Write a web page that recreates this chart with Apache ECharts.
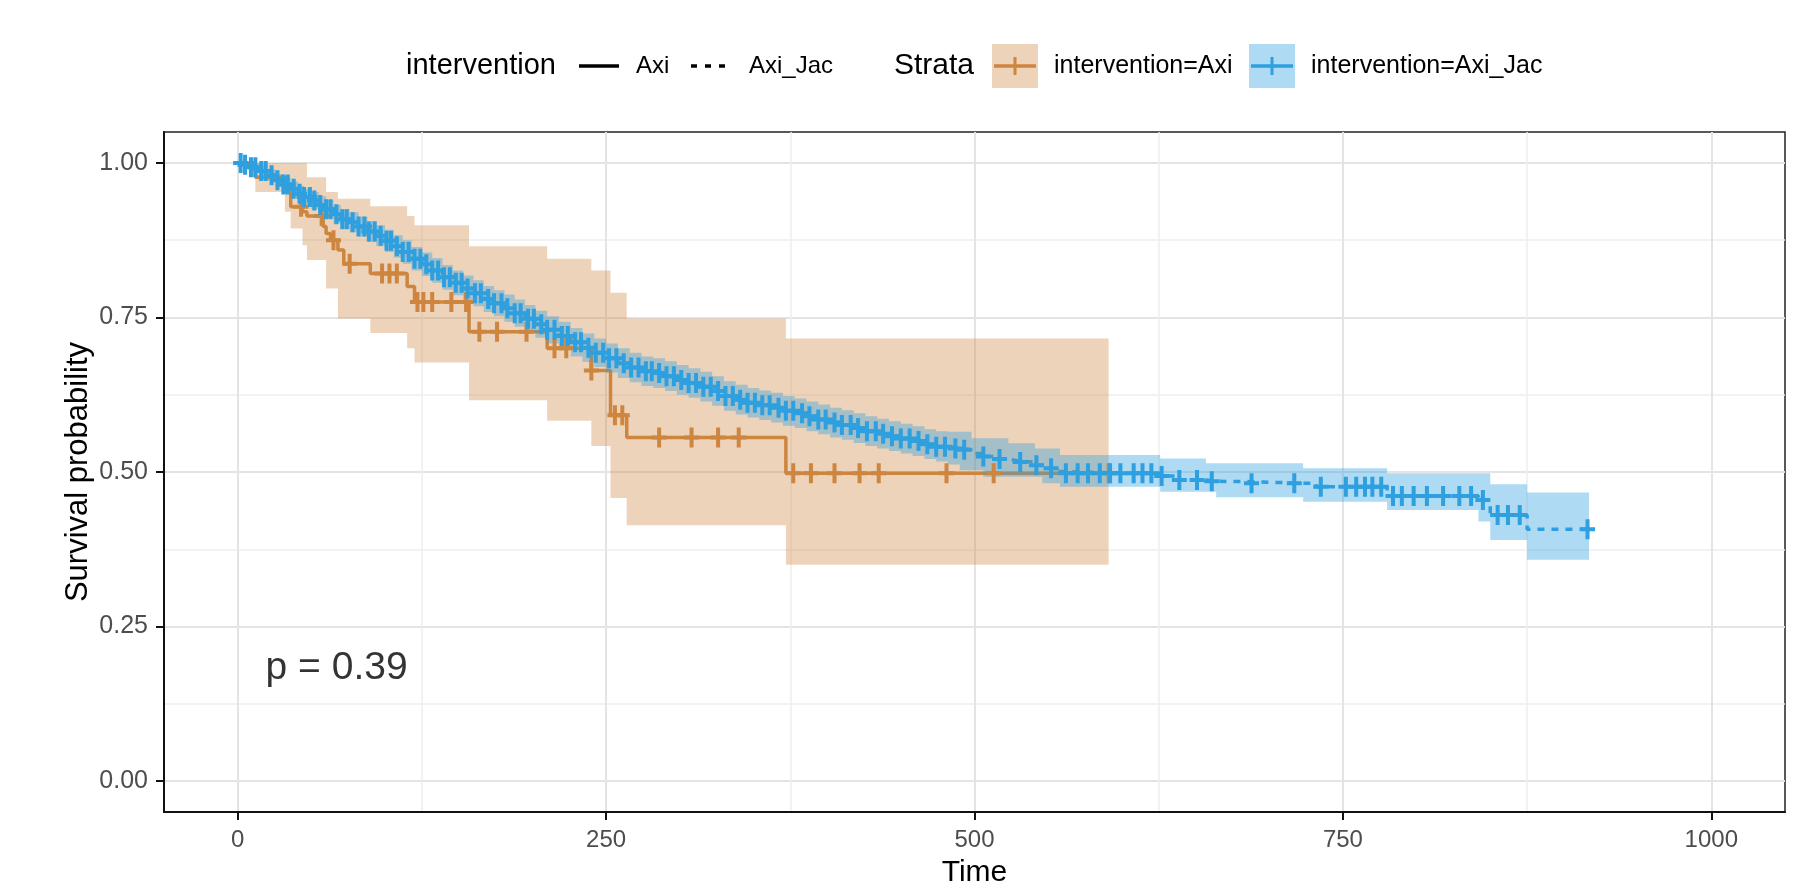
<!DOCTYPE html>
<html><head><meta charset="utf-8">
<script src="https://cdn.jsdelivr.net/npm/echarts@6/dist/echarts.min.js"></script>
<style>html,body{margin:0;padding:0;background:#fff;} #chart{width:1805px;height:882px;}</style>
</head><body><div id="chart"></div>
<script>
// ---------- DATA ----------
const xTicks = [0, 250, 500, 750, 1000];
const xMinor = [125, 375, 625, 875];
const yTicks = [0, 0.25, 0.5, 0.75, 1];
const yMinor = [0.125, 0.375, 0.625, 0.875];

// Strata intervention=Axi
const axiTime  = [0,12,32,36,44,47,58,60,63,68,72,90,115,120,157,210,240,253,264,372,591];
const axiSurv  = [1.000,0.977,0.953,0.929,0.921,0.914,0.897,0.886,0.875,0.859,0.837,0.821,0.800,0.775,0.727,0.700,0.664,0.592,0.556,0.498,0.498];
const axiUpper = [1.000,1.000,1.000,1.000,1.000,0.977,0.977,0.953,0.953,0.942,0.942,0.930,0.914,0.899,0.865,0.845,0.826,0.790,0.7485,0.716,0.716];
const axiLower = [1.000,0.953,0.921,0.894,0.867,0.843,0.843,0.797,0.797,0.7485,0.7485,0.725,0.700,0.677,0.616,0.583,0.542,0.458,0.414,0.350,0.350];
const axiCensor = [43,57,65,76,98,103,108,122,126,132,145,155,164,176,196,215,223,240,256,261,286,308,326,340,377,389,405,422,435,481,513,591];

// Strata intervention=Axi_Jac
const jacTime = [0,4,9,15,20,26,31,36,41,45,50,55,60,65,70,76,82,88,94,100,106,112,118,125,132,139,146,153,160,167,174,181,188,195,202,210,218,226,234,242,250,258,266,274,282,290,298,306,314,322,330,338,346,354,362,370,378,386,394,402,410,418,426,434,442,450,458,466,474,482,
  490,498,506,514,523,530,541,546,554,558,604,626,637,657,664,687,723,732,780,842,850,875,917];
const jacSurv = [1.000,0.997,0.993,0.987,0.980,0.972,0.965,0.958,0.950,0.945,0.939,0.932,0.925,0.917,0.909,0.904,0.897,0.889,0.882,0.874,0.865,0.856,0.845,0.836,0.826,0.815,0.806,0.797,0.789,0.780,0.773,0.765,0.757,0.748,0.739,0.730,0.720,0.710,0.701,0.693,0.684,0.676,0.669,0.663,0.660,0.655,0.649,0.644,0.638,0.631,0.623,0.617,0.612,0.608,0.604,0.599,0.595,0.590,0.585,0.580,0.576,0.571,0.566,0.562,0.558,0.554,0.550,0.545,0.541,0.538,
  0.536,0.530,0.525,0.521,0.518,0.516,0.511,0.506,0.501,0.498,0.498,0.4936,0.487,0.485,0.4844,0.4818,0.4818,0.4763,0.4613,0.4548,0.4306,0.4075,0.4075];
const jacUpper = [1.000,1.000,0.999,0.995,0.989,0.982,0.976,0.970,0.963,0.958,0.953,0.946,0.940,0.932,0.925,0.920,0.913,0.906,0.899,0.892,0.883,0.875,0.864,0.855,0.846,0.835,0.826,0.818,0.810,0.801,0.794,0.787,0.779,0.770,0.761,0.752,0.743,0.733,0.724,0.716,0.708,0.700,0.693,0.687,0.684,0.679,0.673,0.668,0.662,0.655,0.647,0.641,0.636,0.632,0.628,0.623,0.619,0.614,0.609,0.604,0.600,0.595,0.590,0.586,0.582,0.578,0.574,0.569,0.566,0.565,
  0.565,0.5545,0.5545,0.5545,0.5465,0.5465,0.538,0.538,0.538,0.5276,0.5276,0.522,0.522,0.514,0.514,0.514,0.506,0.506,0.498,0.498,0.480,0.4667,0.4667];
const jacLower = [1.000,0.993,0.987,0.979,0.971,0.962,0.954,0.946,0.937,0.932,0.925,0.918,0.910,0.902,0.893,0.888,0.881,0.872,0.865,0.856,0.847,0.837,0.826,0.817,0.806,0.795,0.786,0.776,0.768,0.759,0.752,0.743,0.735,0.726,0.717,0.708,0.697,0.687,0.678,0.670,0.661,0.652,0.645,0.639,0.636,0.631,0.625,0.620,0.614,0.607,0.599,0.593,0.588,0.584,0.580,0.575,0.571,0.566,0.561,0.556,0.552,0.547,0.542,0.538,0.534,0.530,0.526,0.521,0.517,0.512,
  0.503,0.503,0.4925,0.4925,0.4925,0.4925,0.4925,0.4818,0.4818,0.476,0.476,0.468,0.468,0.468,0.459,0.459,0.452,0.452,0.4387,0.4198,0.390,0.358,0.358];
const jacCensor = [2,5,9,12,16,19,23,27,31,34,38,42,45,49,52,56,60,63,67,71,74,78,82,86,89,93,97,101,104,108,112,116,120,124,128,132,136,140,144,148,152,156,161,165,170,174,179,183,188,192,197,201,206,210,215,220,224,229,233,238,243,248,252,257,262,267,272,277,281,286,291,296,301,306,311,316,321,326,331,336,341,346,351,356,361,367,372,377,383,388,394,399,405,410,416,421,427,433,438,444,450,456,462,468,474,480,487,493,506,517,531,542,552,562,570,577,585,592,599,608,614,620,627,639,651,661,688,717,735,752,759,765,770,776,784,790,798,807,818,829,837,845,855,862,870,916];

const pValueText = 'p = 0.39';
const pValuePos = [18.6, 0.183];

// ---------- STYLE ----------
const FONT = '"Liberation Sans", Arial, sans-serif';
const ORANGE = '#CD853F';
const BLUE = '#2E9FDF';
const ORANGE_FILL = 'rgba(205,133,63,0.36)';
const BLUE_FILL = 'rgba(46,159,223,0.38)';
const PLUS = 'path://M11,0 L19,0 L19,16 L30,16 L30,24 L19,24 L19,40 L11,40 L11,24 L0,24 L0,16 L11,16 Z';

function stepAt(times, vals, t) {
  let v = vals[0];
  for (let i = 0; i < times.length; i++) if (times[i] <= t) v = vals[i];
  return v;
}
const pairs = (ts, vs) => ts.map((t, i) => [t, vs[i]]);

// confidence band drawn as one step polygon through the axes' scales
function bandSeries(name, times, lo, hi, fill) {
  return {
    name: name, type: 'custom', silent: true, clip: true, z: 3,
    data: times.map((t, i) => [t, lo[i], hi[i]]),
    encode: { x: 0, y: [1, 2] },
    renderItem: function (params, api) {
      if (params.dataIndex !== 0) return null;
      const pts = [];
      const n = times.length;
      for (let i = 0; i < n - 1; i++) {
        pts.push(api.coord([times[i], hi[i]]));
        pts.push(api.coord([times[i + 1], hi[i]]));
      }
      for (let i = n - 2; i >= 0; i--) {
        pts.push(api.coord([times[i + 1], lo[i]]));
        pts.push(api.coord([times[i], lo[i]]));
      }
      return { type: 'polygon', shape: { points: pts }, style: { fill: fill } };
    }
  };
}

const series = [
  { name: 'Axi', type: 'line', step: 'end', symbol: 'none', data: pairs(axiTime, axiSurv),
    lineStyle: { color: ORANGE, width: 3.5 }, z: 2 },
  { name: 'Axi_Jac', type: 'line', step: 'end', symbol: 'none', data: pairs(jacTime, jacSurv),
    lineStyle: { color: BLUE, width: 3.5, type: [7, 7] }, z: 2 },
  bandSeries('axiBand', axiTime, axiLower, axiUpper, ORANGE_FILL),
  bandSeries('jacBand', jacTime, jacLower, jacUpper, BLUE_FILL),
  { name: 'Axi censor', type: 'scatter', symbol: PLUS, symbolSize: [15, 20],
    data: axiCensor.map(t => [t, stepAt(axiTime, axiSurv, t)]),
    itemStyle: { color: ORANGE, opacity: 1 }, z: 5 },
  { name: 'Axi_Jac censor', type: 'scatter', symbol: PLUS, symbolSize: [15, 20],
    data: jacCensor.map(t => [t, stepAt(jacTime, jacSurv, t)]),
    itemStyle: { color: BLUE, opacity: 1 }, z: 6 },
  { name: 'pval', type: 'scatter', symbolSize: 1, data: [pValuePos],
    itemStyle: { color: 'transparent' }, silent: true,
    label: { show: true, position: 'right', distance: 0, formatter: pValueText,
      fontSize: 39, color: '#000', fontFamily: FONT }, z: 7 }
];

const LEG_Y = 66;
const graphic = [
  { type: 'text', x: 406, y: LEG_Y, style: { text: 'intervention', font: '29px ' + FONT, fill: '#000', verticalAlign: 'middle' } },
  { type: 'line', shape: { x1: 579, y1: LEG_Y, x2: 619, y2: LEG_Y }, style: { stroke: '#000', lineWidth: 3.5 } },
  { type: 'text', x: 636, y: LEG_Y, style: { text: 'Axi', font: '24px ' + FONT, fill: '#000', verticalAlign: 'middle' } },
  { type: 'line', shape: { x1: 691, y1: LEG_Y, x2: 729, y2: LEG_Y }, style: { stroke: '#000', lineWidth: 3.5, lineDash: [6, 8] } },
  { type: 'text', x: 749, y: LEG_Y, style: { text: 'Axi_Jac', font: '24px ' + FONT, fill: '#000', verticalAlign: 'middle' } },
  { type: 'text', x: 894, y: LEG_Y, style: { text: 'Strata', font: '30px ' + FONT, fill: '#000', verticalAlign: 'middle' } },
  { type: 'rect', shape: { x: 992, y: LEG_Y - 22, width: 46, height: 44 }, style: { fill: ORANGE_FILL } },
  { type: 'line', shape: { x1: 994, y1: LEG_Y, x2: 1036, y2: LEG_Y }, style: { stroke: ORANGE, lineWidth: 3.5 } },
  { type: 'line', shape: { x1: 1015, y1: LEG_Y - 9, x2: 1015, y2: LEG_Y + 9 }, style: { stroke: ORANGE, lineWidth: 3 } },
  { type: 'text', x: 1054, y: LEG_Y, style: { text: 'intervention=Axi', font: '25px ' + FONT, fill: '#000', verticalAlign: 'middle' } },
  { type: 'rect', shape: { x: 1249, y: LEG_Y - 22, width: 46, height: 44 }, style: { fill: BLUE_FILL } },
  { type: 'line', shape: { x1: 1251, y1: LEG_Y, x2: 1293, y2: LEG_Y }, style: { stroke: BLUE, lineWidth: 3.5 } },
  { type: 'line', shape: { x1: 1272, y1: LEG_Y - 9, x2: 1272, y2: LEG_Y + 9 }, style: { stroke: BLUE, lineWidth: 3 } },
  { type: 'text', x: 1311, y: LEG_Y, style: { text: 'intervention=Axi_Jac', font: '25px ' + FONT, fill: '#000', verticalAlign: 'middle' } }
];

const option = {
  animation: false,
  backgroundColor: '#fff',
  textStyle: { fontFamily: FONT },
  grid: { left: 164, right: 20, top: 132, bottom: 70, show: true, borderColor: '#222', borderWidth: 1.5,
    containLabel: false, outerBoundsMode: 'none' },
  xAxis: [
    { type: 'value', min: -50, max: 1050, position: 'bottom',
      axisLine: { show: true, onZero: false, lineStyle: { color: '#111', width: 2 } },
      axisTick: { show: true, customValues: xTicks, length: 8, lineStyle: { color: '#111', width: 2 } },
      axisLabel: { customValues: xTicks, fontSize: 24, color: '#4D4D4D', margin: 16, fontFamily: FONT,
        formatter: v => String(v) },
      splitLine: { show: true, lineStyle: { color: '#E4E4E4', width: 2 } },
      name: 'Time', nameLocation: 'middle', nameGap: 46, nameMoveOverlap: false,
      nameTextStyle: { fontSize: 30, color: '#000', fontFamily: FONT } },
    { type: 'value', min: -50, max: 1050, position: 'top',
      axisLine: { show: false }, axisTick: { show: false, customValues: xMinor },
      axisLabel: { show: false, customValues: xMinor },
      splitLine: { show: true, lineStyle: { color: '#EEEEEE', width: 1.5 } } }
  ],
  yAxis: [
    { type: 'value', min: -0.05, max: 1.05, position: 'left',
      axisLine: { show: true, onZero: false, lineStyle: { color: '#111', width: 2 } },
      axisTick: { show: true, customValues: yTicks, length: 8, lineStyle: { color: '#111', width: 2 } },
      axisLabel: { customValues: yTicks, fontSize: 25, color: '#4D4D4D', margin: 16, fontFamily: FONT,
        formatter: v => Number(v).toFixed(2) },
      splitLine: { show: true, lineStyle: { color: '#E4E4E4', width: 2 } },
      name: 'Survival probability', nameLocation: 'middle', nameGap: 70, nameRotate: 90, nameMoveOverlap: false,
      nameTextStyle: { fontSize: 31, color: '#000', fontFamily: FONT } },
    { type: 'value', min: -0.05, max: 1.05, position: 'right',
      axisLine: { show: false }, axisTick: { show: false, customValues: yMinor },
      axisLabel: { show: false, customValues: yMinor },
      splitLine: { show: true, lineStyle: { color: '#EEEEEE', width: 1.5 } } }
  ],
  series: series,
  graphic: graphic
};

const chart = echarts.init(document.getElementById('chart'), null, { renderer: 'canvas' });
chart.setOption(option);
</script></body></html>
